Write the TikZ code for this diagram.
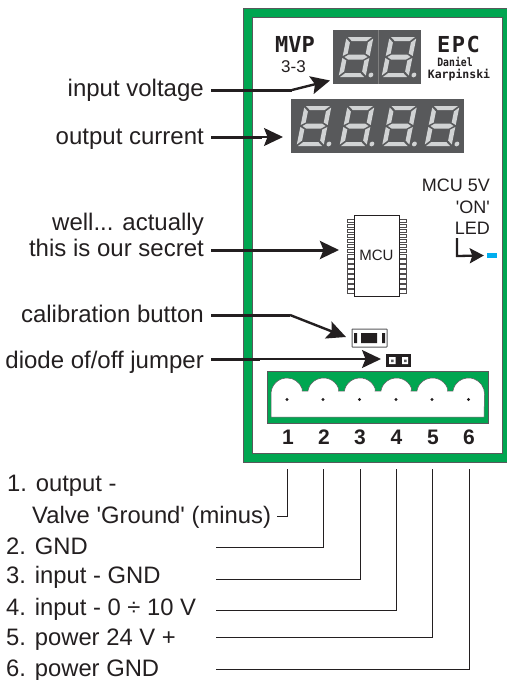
\documentclass[tikz,border=0pt]{standalone}
\usepackage{fontspec}
\setmainfont{Liberation Sans}
\newfontfamily\monob{DejaVu Sans Mono}
\usetikzlibrary{arrows.meta}
\definecolor{ink}{HTML}{231F20}
\definecolor{board}{HTML}{00A651}
\definecolor{edgeg}{HTML}{58595B}
\definecolor{segon}{HTML}{D1D3D4}
\definecolor{ledb}{HTML}{00AEEF}
\newcommand{\digitat}[2]{%
\begin{scope}[shift={(#1,#2)},x={(1pt,0pt)},y={(0.2pt,1pt)}]
\fill[segon] (3,40) -- (27,40) -- (22.5,36) -- (7.5,36) -- cycle;
\fill[segon] (3.5,20) -- (7.5,22.5) -- (22.5,22.5) -- (26.5,20) -- (22.5,17.5) -- (7.5,17.5) -- cycle;
\fill[segon] (3,0) -- (27,0) -- (22.5,4) -- (7.5,4) -- cycle;
\fill[segon] (1.5,38.5) -- (6,34.5) -- (6,23.5) -- (1.5,21) -- cycle;
\fill[segon] (28.5,38.5) -- (24,34.5) -- (24,23.5) -- (28.5,21) -- cycle;
\fill[segon] (1.5,19) -- (6,16.5) -- (6,5.5) -- (1.5,1.5) -- cycle;
\fill[segon] (28.5,19) -- (24,16.5) -- (24,5.5) -- (28.5,1.5) -- cycle;
\fill[segon] (33.5,2) circle[radius=2.4];
\end{scope}}
\tikzset{
 x=1pt,y=-1pt,
 lab/.style={font=\fontsize{24}{26}\selectfont,text=ink,inner sep=0pt,anchor=base east},
 listlab/.style={font=\fontsize{23.8}{26}\selectfont,text=ink,inner sep=0pt,anchor=base west},
 led/.style={font=\fontsize{18}{20}\selectfont,text=ink,inner sep=0pt,anchor=base east},
 pinnum/.style={font=\fontsize{21}{22}\selectfont\bfseries,text=ink,inner sep=0pt},
 thick line/.style={draw=ink,line width=3pt},
 thin line/.style={draw=ink,line width=1.5pt,-{Stealth[length=19pt,width=18pt,inset=3.5pt]}},
 wire/.style={draw=ink,line width=1pt},
 pinbox/.style={draw=ink!80,fill=white,line width=.7pt},
}
\begin{document}
\begin{tikzpicture}
\useasboundingbox (0,0) rectangle (506,680);
% board
\fill[board,draw=edgeg,line width=.8pt] (243,8) rectangle (507,462);
\fill[white,draw=edgeg,line width=.8pt] (252,17) rectangle (502,453);
% displays
\fill[edgeg] (333,30) rectangle (421,84);
\draw[gray,line width=.4pt] (378,30) -- (378,84);
\fill[edgeg] (291,99) rectangle (464,153);
\digitat{337}{77}
\digitat{380}{77}
\digitat{295}{146}
\digitat{338}{146}
\digitat{380.5}{146}
\digitat{423}{146}
% silk text
\node[font=\monob\bfseries\fontsize{22}{22}\selectfont,text=ink,inner sep=0pt] (mvp) at (295,44) {MVP};
\node[text=ink,inner sep=0pt,font=\fontsize{17}{18}\selectfont] (rev) at (293.5,67) {3-3};
\node[font=\monob\bfseries\fontsize{22}{22}\selectfont,text=ink,inner sep=0pt] (epc) at (458.5,44) {E\kern1.5pt P\kern1.5pt C};
\node[font=\monob\bfseries\fontsize{11.5}{12}\selectfont,text=ink,inner sep=0pt,xscale=.85,transform shape] (dan) at (455,62) {Daniel};
\node[font=\monob\bfseries\fontsize{11.5}{12}\selectfont,text=ink,inner sep=0pt] (kar) at (459,75) {Karpinski};
% chip
\foreach \i in {0,...,14}{
 \draw[pinbox] (347,{219+\i*5.05}) rectangle (354,{222.5+\i*5.05});
 \draw[pinbox] (399,{219+\i*5.05}) rectangle (406,{222.5+\i*5.05});
}
\node[draw=ink,fill=white,line width=.9pt,minimum width=45pt,minimum height=81pt,inner sep=0pt] (mcu) at (376.5,255.5) {};
\node[text=ink,inner sep=0pt,font=\fontsize{15}{16}\selectfont] (mcut) at (376.5,255) {MCU};
% LED
\node[led] (l1) at (490,191.5) {MCU 5V};
\node[led] (l2) at (490,213) {\textquotesingle ON\textquotesingle};
\node[led] (l3) at (490,234) {LED};
\node[fill=ledb,minimum width=10pt,minimum height=5pt,inner sep=0pt] (ledr) at (492,255.5) {};
\coordinate (lc) at (457,256);
\coordinate (ls) at (457,238);
\draw[draw=ink,line width=2.3pt,-{Stealth[length=14pt,width=15pt,inset=2.5pt]}] (ls) -- (lc) -- ([xshift=-3pt]ledr.west);
% button
\node[draw=edgeg,fill=white,line width=1pt,minimum width=35pt,minimum height=18pt,inner sep=0pt,rounded corners=.5pt] (btn) at (369.5,338) {};
\fill[ink] (361,333) rectangle (377,343) (354,333) rectangle (357,343) (382,333) rectangle (385,343);
% jumper
\node[fill=ink,minimum width=25pt,minimum height=12.5pt,inner sep=0pt] (jmp) at (398.5,360.5) {};
\fill[white] (389,357) rectangle (395.5,364) (402,357) rectangle (408,364);
\fill[edgeg] (391,359.5) rectangle (393.5,362) (404,359.5) rectangle (406.5,362);
% terminal block
\fill[board,draw=edgeg,line width=.7pt] (267,371) rectangle (488,423);
\fill[white,draw=edgeg,line width=.5pt] (271,417) -- (271,394)
 arc[start angle=180,end angle=340,radius=16] -- (302,391) -- (308,391) -- (308.5,388.5)
 arc[start angle=200,end angle=340,radius=16] -- (338.5,391) -- (344.5,391) -- (345,388.5)
 arc[start angle=200,end angle=340,radius=16] -- (375,391) -- (381,391) -- (381.5,388.5)
 arc[start angle=200,end angle=340,radius=16] -- (411,391) -- (417,391) -- (417.5,388.5)
 arc[start angle=200,end angle=340,radius=16] -- (447.5,391) -- (453,391) -- (453.5,388.5)
 arc[start angle=200,end angle=360,radius=16]
 -- (484,417) -- cycle;
\foreach \x in {287,323,359.5,396,432,468.5}{\fill[ink] (\x,399.5) circle[radius=1.7];}
% pin numbers
\node[pinnum] (n1) at (288,437) {1};
\node[pinnum] (n2) at (324,437) {2};
\node[pinnum] (n3) at (360,437) {3};
\node[pinnum] (n4) at (396.5,437) {4};
\node[pinnum] (n5) at (433,437) {5};
\node[pinnum] (n6) at (469,437) {6};
% left labels + arrows
\node[lab] (iv) at (204,96.7) {input voltage};
\node[lab] (oc) at (204,144) {output current};
\node[lab] (w1) at (204,230.7) {well... actually};
\node[lab] (w2) at (204,256.7) {this is our secret};
\node[lab] (cb) at (204,322.3) {calibration button};
\node[lab] (dj) at (204,368.3) {diode of/off jumper};
\coordinate (ivs) at (211,90);
\coordinate (ivk) at (292,90);
\coordinate (ivt) at (330,80.5);
\coordinate (ocs) at (211,137);
\coordinate (ock) at (262,137);
\coordinate (oct) at (283,137);
\coordinate (mcs) at (211,250);
\coordinate (mct) at (339,250);
\coordinate (cbs) at (211,315);
\coordinate (cbk) at (290,315);
\coordinate (cbt) at (346,337);
\coordinate (djs) at (211,359);
\coordinate (djk) at (260,359);
\coordinate (djt) at (381,359);
\draw[thick line] (ivs) -- (ivk);
\draw[thin line,line width=2.4pt] (ivk) -- (ivt);
\draw[thick line] (ocs) -- (ock);
\draw[thin line] (ock) -- (oct);
\draw[thick line,-{Stealth[length=19pt,width=18pt,inset=3.5pt]}] (mcs) -- (mct);
\draw[thick line] (cbs) -- (cbk);
\draw[thin line,line width=2.4pt] (cbk) -- (cbt);
\draw[thick line] (djs) -- (djk);
\draw[thin line] (djk) -- (djt);
% bottom list
\node[listlab] (t1) at (7,491.7) {1. output -};
\node[listlab] (t1b) at (32,523) {Valve \textquotesingle Ground\textquotesingle{} (minus)};
\node[listlab] (t2) at (6,554) {2. GND};
\node[listlab] (t3) at (6,583.5) {3. input - GND};
\node[listlab] (t4) at (6,615) {4. input - 0 ÷ 10 V};
\node[listlab] (t5) at (6,645) {5. power 24 V +};
\node[listlab] (t6) at (6,676) {6. power GND};
\coordinate (a1) at (287,469); \coordinate (b1) at (287,516);
\coordinate (a2) at (323.5,469); \coordinate (b2) at (323.5,547);
\coordinate (a3) at (360,469); \coordinate (b3) at (360,579);
\coordinate (a4) at (396,469); \coordinate (b4) at (396,610);
\coordinate (a5) at (432,469); \coordinate (b5) at (432,637);
\coordinate (a6) at (469,469); \coordinate (b6) at (469,669);
\coordinate (e1) at (277,516);
\coordinate (e2) at (216,547);
\coordinate (e3) at (216,579);
\coordinate (e4) at (216,610);
\coordinate (e5) at (216,637);
\coordinate (e6) at (216,669);
\foreach \i in {1,...,6}{\draw[wire] (a\i) -- (b\i) -- (e\i);}
\end{tikzpicture}
\end{document}
